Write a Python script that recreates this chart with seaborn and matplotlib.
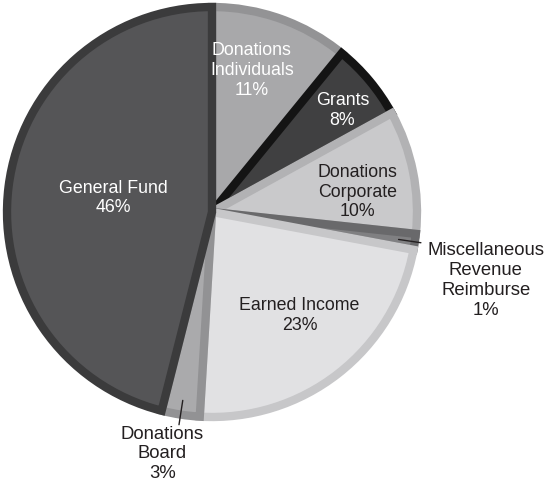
import numpy as np
import matplotlib
matplotlib.use("Agg")
import matplotlib.pyplot as plt
import seaborn as sns

# ---- data ----
categories = ["Donations Individuals", "Grants", "Donations Corporate",
              "Miscellaneous Revenue Reimburse", "Earned Income",
              "Donations Board", "General Fund"]
label_texts = ["Donations\nIndividuals\n11%", "Grants\n8%", "Donations\nCorporate\n10%",
               "Miscellaneous\nRevenue\nReimburse\n1%", "Earned Income\n23%",
               "Donations\nBoard\n3%", "General Fund\n46%"]
shares = [10.9, 6.1, 9.7, 1.25, 23.0, 3.0, 46.05]

# ---- style ----
fills = ["#a8a8aa", "#404041", "#c9c9cb", "#808082", "#e1e1e3", "#aaaaac", "#555557"]
edges = ["#939395", "#141414", "#b2b2b4", "#69696b", "#c7c7c9", "#929294", "#3b3b3c"]
text_colors = ["white", "white", "#231f20", "#231f20", "#231f20", "#231f20", "white"]
label_pos = [(0.194, 0.694), (0.636, 0.50), (0.709, 0.102), (1.335, -0.33),
             (0.427, -0.50), (-0.243, -1.175), (-0.48, 0.073)]
outside = [False, False, False, True, False, True, False]

sns.set_style("white")
plt.rcParams['font.family'] = ['Liberation Sans', 'DejaVu Sans']

fig = plt.figure(figsize=(5.46, 4.85), dpi=100)
W, H = 546, 485
cx, cy, R = 212, 213, 205
ax = fig.add_axes([(cx - R) / W, (H - cy - R) / H, 2 * R / W, 2 * R / H])

wedges, _ = ax.pie(shares, colors=fills, startangle=90, counterclock=False,
                   radius=1.0, center=(0, 0))
for w, ec in zip(wedges, edges):
    w.set_edgecolor(ec)
    w.set_linewidth(6.0)
    w.set_clip_path(w)

for i, w in enumerate(wedges):
    x, y = label_pos[i]
    ax.text(x, y, label_texts[i], ha="center", va="center",
            color=text_colors[i], fontsize=13.3 if outside[i] else 12.8,
            linespacing=1.22)
    if outside[i]:
        mid = np.deg2rad((w.theta1 + w.theta2) / 2)
        r1, r2 = (0.92, 1.03) if i == 3 else (0.93, 1.05)
        ax.plot([r1 * np.cos(mid), r2 * np.cos(mid)],
                [r1 * np.sin(mid), r2 * np.sin(mid)],
                color="#231f20", lw=1.0, clip_on=False)

ax.set_xlim(-1, 1)
ax.set_ylim(-1, 1)
ax.set_aspect("equal")
ax.axis("off")

fig.savefig("out.png", dpi=100, facecolor="white")
